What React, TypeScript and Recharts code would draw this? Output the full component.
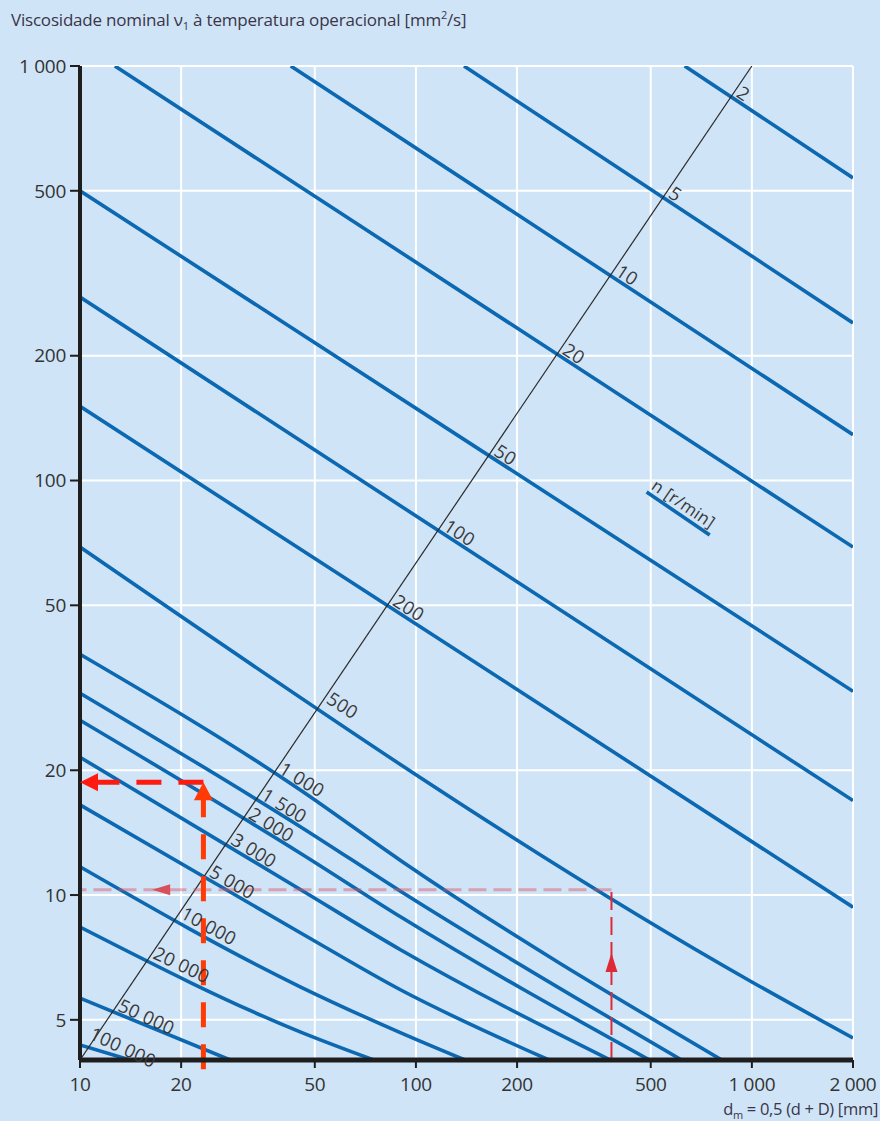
import React from 'react';
import { LineChart, Line, XAxis, YAxis, CartesianGrid, ReferenceLine, ReferenceDot } from 'recharts';

// ---- axes ----
const xTicks = [10, 20, 50, 100, 200, 500, 1000, 2000];
const yTicks = [5, 10, 20, 50, 100, 200, 500, 1000];
const xDomain = [10, 2000];
const yDomain = [4, 1000];

// ---- speed lines n [r/min] : points (dm, viscosity) ----
const speedNames = ['2', '5', '10', '20', '50', '100', '200', '500', '1 000', '1 500', '2 000', '3 000', '5 000', '10 000', '20 000', '50 000', '100 000'];

const n2 = [{ x: 631, y: 1000 }, { x: 2000, y: 537 }];
const n5 = [{ x: 139, y: 1000 }, { x: 2000, y: 240 }];
const n10 = [{ x: 42.4, y: 1000 }, { x: 2000, y: 129 }];
const n20 = [{ x: 12.7, y: 1000 }, { x: 2000, y: 69.1 }];
const n50 = [{ x: 10, y: 500 }, { x: 2000, y: 31.0 }];
const n100 = [{ x: 10, y: 277 }, { x: 2000, y: 16.9 }];
const n200 = [{ x: 10, y: 151 }, { x: 2000, y: 9.35 }];
const n500 = [{ x: 10, y: 69.1 }, { x: 1000, y: 6.17 }, { x: 2000, y: 4.52 }];
const n1000 = [{ x: 10, y: 38.1 }, { x: 45.4, y: 17.9 }, { x: 90.2, y: 12.1 }, { x: 814, y: 4 }];
const n1500 = [{ x: 10, y: 30.7 }, { x: 45.4, y: 14.6 }, { x: 90.2, y: 10.2 }, { x: 618, y: 4 }];
const n2000 = [{ x: 10, y: 26.4 }, { x: 45.4, y: 12.6 }, { x: 90.2, y: 8.85 }, { x: 496, y: 4 }];
const n3000 = [{ x: 10, y: 21.5 }, { x: 45.4, y: 10.3 }, { x: 90.2, y: 7.37 }, { x: 379, y: 4 }];
const n5000 = [{ x: 10, y: 16.5 }, { x: 45.4, y: 8.1 }, { x: 90.2, y: 5.9 }, { x: 249, y: 4 }];
const n10000 = [{ x: 10, y: 11.7 }, { x: 45.4, y: 6.0 }, { x: 90.2, y: 4.65 }, { x: 140, y: 4 }];
const n20000 = [{ x: 10, y: 8.37 }, { x: 45.4, y: 4.67 }, { x: 74.9, y: 4 }];
const n50000 = [{ x: 10, y: 5.64 }, { x: 28, y: 4 }];
const n100000 = [{ x: 10, y: 4.35 }, { x: 14.1, y: 4 }];

const speedLines = [n2, n5, n10, n20, n50, n100, n200, n500, n1000, n1500, n2000, n3000, n5000, n10000, n20000, n50000, n100000];

// diagonal reference line
const diagonal = [{ x: 10, y: 4 }, { x: 1000, y: 1000 }];
// "n [r/min]" legend stroke
const legendStroke = [{ x: 486, y: 93.8 }, { x: 749, y: 73.9 }];

// example reading (red dashed)
const thinX = 382;
const thinY = 10.3;
const thinArrowUpY = 7.25;
const thinArrowLeftX = 16.4;
const boldX = 23.3;
const boldY = 18.7;
const boldBottomY = 3.8;

// ---- layout ----
const W = 880;
const H = 1121;
const M = { top: 66, right: 27, bottom: 0, left: 20 };
const Y_AXIS_W = 60;
const X_AXIS_H = 61;
const PLOT_W = W - M.left - M.right - Y_AXIS_W;
const PLOT_H = H - M.top - M.bottom - X_AXIS_H;
const PX_DEC_X = PLOT_W / Math.log10(xDomain[1] / xDomain[0]);
const PX_DEC_Y = PLOT_H / Math.log10(yDomain[1] / yDomain[0]);

const BLUE = '#0b68b1';
const FONT = 'Open Sans, sans-serif';
const TEXT = '#3a3838';

const fmt = (v: number) => String(v).replace(/\B(?=(\d{3})+(?!\d))/g, ' ');

// intersection of each speed line with the diagonal (in log space)
const L = Math.log10;
const diagV = (u: number) => {
  const u0 = L(diagonal[0].x), v0 = L(diagonal[0].y), u1 = L(diagonal[1].x), v1 = L(diagonal[1].y);
  return v0 + ((v1 - v0) / (u1 - u0)) * (u - u0);
};
const intersections = speedLines.map((pts) => {
  for (let i = 0; i < pts.length - 1; i++) {
    const ua = L(pts[i].x), va = L(pts[i].y), ub = L(pts[i + 1].x), vb = L(pts[i + 1].y);
    const fa = va - diagV(ua), fb = vb - diagV(ub);
    if (fa === 0 || fa * fb <= 0) {
      const t = fa / (fa - fb);
      const u = ua + t * (ub - ua);
      const v = va + t * (vb - va);
      let ang = (Math.atan(((va - vb) * PX_DEC_Y) / ((ub - ua) * PX_DEC_X)) * 180) / Math.PI;
      if (ang < 25) ang = 25;
      return { x: Math.pow(10, u), y: Math.pow(10, v), angle: ang };
    }
  }
  return null;
});

const legendAngle = (Math.atan(((L(legendStroke[0].y) - L(legendStroke[1].y)) * PX_DEC_Y) / ((L(legendStroke[1].x) - L(legendStroke[0].x)) * PX_DEC_X)) * 180) / Math.PI;

const RotLabel = (text: string, angle: number, dx: number, dy: number, size: number) => (props: any) => {
  const { cx, cy } = props;
  return (
    <text
      x={cx + dx}
      y={cy + dy}
      transform={`rotate(${angle}, ${cx}, ${cy})`}
      fontFamily={FONT}
      fontSize={size}
      letterSpacing={0.3}
      fill={TEXT}
      textAnchor="start"
    >
      {text}
    </text>
  );
};

const arrowUp = (w: number, h: number, color: string) => (props: any) => {
  const { cx, cy } = props;
  return <polygon points={`${cx},${cy} ${cx - w / 2},${cy + h} ${cx + w / 2},${cy + h}`} fill={color} />;
};
const arrowLeft = (w: number, h: number, color: string) => (props: any) => {
  const { cx, cy } = props;
  return <polygon points={`${cx},${cy} ${cx + w},${cy - h / 2} ${cx + w},${cy + h / 2}`} fill={color} />;
};

export default function App() {
  return (
    <div style={{ position: 'absolute', left: 0, top: 0, width: W, height: H, background: '#cfe4f7', overflow: 'hidden' }}>
      <div
        style={{
          position: 'absolute',
          left: 11,
          top: 7,
          fontFamily: FONT,
          fontSize: 17,
          letterSpacing: -0.2,
          color: '#3a3548',
          whiteSpace: 'nowrap',
        }}
      >
        Viscosidade nominal ν<sub style={{ fontSize: 11 }}>1</sub> à temperatura operacional [mm<sup style={{ fontSize: 11 }}>2</sup>/s]
      </div>
      <LineChart width={W} height={H} margin={M} style={{ position: 'absolute', left: 0, top: 0 }}>
        <CartesianGrid stroke="#ffffff" strokeWidth={2} />
        <XAxis
          type="number"
          dataKey="x"
          scale="log"
          domain={xDomain}
          ticks={xTicks}
          allowDataOverflow
          height={X_AXIS_H}
          tickFormatter={fmt}
          axisLine={{ stroke: '#1e1e1e', strokeWidth: 5 }}
          tickLine={{ stroke: '#1e1e1e', strokeWidth: 2 }}
          tickSize={8}
          tickMargin={10}
          tick={{ fontFamily: FONT, fontSize: 19, fill: '#333', letterSpacing: -0.3 }}
        />
        <YAxis
          type="number"
          dataKey="y"
          scale="log"
          domain={yDomain}
          ticks={yTicks}
          allowDataOverflow
          width={Y_AXIS_W}
          tickFormatter={fmt}
          axisLine={{ stroke: '#1e1e1e', strokeWidth: 4 }}
          tickLine={{ stroke: '#1e1e1e', strokeWidth: 2 }}
          tickSize={10}
          tickMargin={4}
          tick={{ fontFamily: FONT, fontSize: 19, fill: '#333', letterSpacing: -0.3 }}
        />
        {speedLines.map((pts, i) => (
          <Line
            key={'n' + i}
            data={pts}
            dataKey="y"
            type="monotone"
            stroke={BLUE}
            strokeWidth={3.6}
            dot={false}
            activeDot={false}
            isAnimationActive={false}
          />
        ))}
        <Line data={diagonal} dataKey="y" type="linear" stroke="#2a2a2a" strokeWidth={1.2} dot={false} activeDot={false} isAnimationActive={false} />
        <Line data={legendStroke} dataKey="y" type="linear" stroke={BLUE} strokeWidth={3.6} dot={false} activeDot={false} isAnimationActive={false} />

        {/* thin red reading */}
        <ReferenceLine
          segment={[{ x: thinX, y: yDomain[0] }, { x: thinX, y: thinY }]}
          stroke="#de2a36"
          strokeWidth={2}
          strokeDasharray="18 7"
          ifOverflow="visible"
        />
        <ReferenceLine
          segment={[{ x: thinX, y: thinY }, { x: xDomain[0], y: thinY }]}
          stroke="#e0505e"
          strokeOpacity={0.45}
          strokeWidth={3}
          strokeDasharray="18 7"
          ifOverflow="visible"
        />
        <ReferenceDot x={thinX} y={thinArrowUpY} ifOverflow="visible" shape={arrowUp(12, 19, '#de2a36')} />
        <ReferenceDot x={thinArrowLeftX} y={thinY} ifOverflow="visible" shape={arrowLeft(18, 11, '#d8505c')} />

        {/* bold red reading */}
        <ReferenceLine
          segment={[{ x: boldX, y: boldBottomY }, { x: boldX, y: boldY }]}
          stroke="#ff3a05"
          strokeWidth={5}
          strokeDasharray="25 17"
          ifOverflow="visible"
        />
        <ReferenceLine
          segment={[{ x: boldX, y: boldY }, { x: xDomain[0], y: boldY }]}
          stroke="#ff1a10"
          strokeWidth={5}
          strokeDasharray="25 17"
          ifOverflow="visible"
        />
        <ReferenceDot x={boldX} y={boldY} ifOverflow="visible" shape={arrowUp(19, 18, '#ff3a05')} />
        <ReferenceDot x={xDomain[0]} y={boldY} ifOverflow="visible" shape={arrowLeft(18, 18, '#ff1a10')} />

        {/* speed labels along the diagonal */}
        {intersections.map((p, i) =>
          p ? (
            <ReferenceDot
              key={'lab' + i}
              x={p.x}
              y={p.y}
              ifOverflow="visible"
              shape={RotLabel(speedNames[i], p.angle, i === speedNames.length - 1 ? -4 : 3, i === speedNames.length - 1 ? -8 : -3, 18.5)}
            />
          ) : null
        )}
        <ReferenceDot x={legendStroke[0].x} y={legendStroke[0].y} ifOverflow="visible" shape={RotLabel('n [r/min]', legendAngle, 1, -5, 17)} />
      </LineChart>
      <div
        style={{
          position: 'absolute',
          right: 2,
          top: 1097,
          fontFamily: FONT,
          fontSize: 16.5,
          letterSpacing: -0.3,
          color: '#3a3548',
          whiteSpace: 'nowrap',
        }}
      >
        d<sub style={{ fontSize: 11 }}>m</sub> = 0,5 (d + D) [mm]
      </div>
    </div>
  );
}
